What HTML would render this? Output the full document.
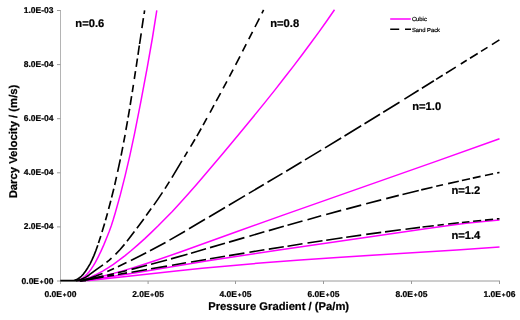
<!DOCTYPE html>
<html><head><meta charset="utf-8"><title>Chart</title>
<style>
html,body{margin:0;padding:0;background:#fff;}
text{stroke:#000;stroke-width:0.22px;}
svg{display:block;font-family:"Liberation Sans",sans-serif;fill:#000;text-rendering:geometricPrecision;will-change:transform;}
</style></head>
<body>
<svg width="520" height="320" viewBox="0 0 520 320">
<rect width="520" height="320" fill="#ffffff"/>
<g>
<path d="M60.5 10 V284" stroke="#b4b4b4" stroke-width="1" fill="none"/>
<path d="M57 281 H500" stroke="#9a9a9a" stroke-width="1" fill="none"/>
<path d="M57 10.50 H60.5" stroke="#9a9a9a" stroke-width="1" fill="none"/>
<path d="M57 64.60 H60.5" stroke="#9a9a9a" stroke-width="1" fill="none"/>
<path d="M57 118.70 H60.5" stroke="#9a9a9a" stroke-width="1" fill="none"/>
<path d="M57 172.80 H60.5" stroke="#9a9a9a" stroke-width="1" fill="none"/>
<path d="M57 226.90 H60.5" stroke="#9a9a9a" stroke-width="1" fill="none"/>
<path d="M148.10 281 V284" stroke="#9a9a9a" stroke-width="1" fill="none"/>
<path d="M235.50 281 V284" stroke="#9a9a9a" stroke-width="1" fill="none"/>
<path d="M323.50 281 V284" stroke="#9a9a9a" stroke-width="1" fill="none"/>
<path d="M411.50 281 V284" stroke="#9a9a9a" stroke-width="1" fill="none"/>
<path d="M499.50 281 V284" stroke="#9a9a9a" stroke-width="1" fill="none"/>
</g>
<g>
<path d="M77.6 280.6 L78.0 280.6 L79.2 280.0 L82.2 278.3 L84.6 276.5 L86.9 274.3 L89.0 271.9 L91.1 269.2 L93.1 266.2 L95.2 262.7 L98.0 257.3 L100.9 251.4 L103.8 244.9 L106.9 237.3 L109.2 231.5 L111.2 225.9 L113.2 219.8 L115.3 212.8 L120.3 194.9 L125.1 175.9 L129.9 155.4 L134.7 132.9 L140.7 102.4 L147.4 66.7 L152.5 37.5 L156.8 10.3" fill="none" stroke="#ff00ff" stroke-width="1.5" stroke-linejoin="round"/>
<path d="M79.2 280.6 L81.6 280.6 L84.7 279.5 L91.1 276.9 L97.4 273.9 L102.7 271.1 L108.0 267.8 L113.4 264.3 L119.1 260.2 L125.1 255.6 L131.3 250.5 L138.1 244.6 L144.8 238.6 L151.4 232.4 L158.2 225.8 L165.1 218.8 L172.3 211.4 L180.3 202.7 L188.6 193.5 L197.4 183.5 L207.2 172.0 L223.3 153.0 L238.7 134.4 L252.3 118.0 L264.8 102.6 L274.8 90.1 L284.4 77.8 L293.5 66.1 L302.3 54.5 L310.8 43.0 L319.0 31.9 L326.9 20.8 L334.5 9.8" fill="none" stroke="#ff00ff" stroke-width="1.5" stroke-linejoin="round"/>
<path d="M79.0 280.6 L80.2 280.6 L81.7 280.4 L93.6 278.1 L103.4 275.9 L113.5 273.4 L123.5 270.6 L134.2 267.4 L145.8 263.8 L157.9 259.8 L181.7 251.5 L237.2 231.5 L283.8 214.9 L436.7 161.1 L499.5 138.8" fill="none" stroke="#ff00ff" stroke-width="1.5" stroke-linejoin="round"/>
<path d="M80.1 280.6 L83.4 280.6 L95.7 279.0 L108.9 277.0 L136.0 272.8 L206.3 261.1 L240.9 255.7 L279.0 250.0 L368.8 237.1 L425.6 228.7 L447.2 225.7 L466.0 223.3 L483.4 221.4 L499.5 220.0" fill="none" stroke="#ff00ff" stroke-width="1.5" stroke-linejoin="round"/>
<path d="M80.0 280.6 L86.8 280.6 L89.0 280.4 L116.9 277.5 L176.1 271.0 L202.1 268.3 L233.4 265.4 L266.9 262.5 L300.3 260.0 L337.2 257.4 L456.9 249.9 L499.5 247.1" fill="none" stroke="#ff00ff" stroke-width="1.5" stroke-linejoin="round"/>
<path d="M144.6 10.3 L144.1 14.0 M143.4 18.2 L141.9 28.1 M141.2 33.3 L139.6 44.0 M139.3 45.5 L138.0 54.8 M137.4 58.5 L136.2 66.9 M135.5 71.2 L134.3 79.0 M133.4 84.8 L132.3 92.2 M131.6 96.2 L130.2 105.0 M129.6 108.8 L128.1 117.5 M127.5 121.2 L125.9 130.0 M125.1 134.8 L123.6 142.5 M122.8 146.9 L121.1 155.6 M120.3 159.4 L117.6 171.9 M116.5 176.9 L114.7 185.0 M113.8 188.8 L111.6 197.5 M110.8 200.8 L108.6 209.0 M107.5 213.3 L105.5 220.3 M104.6 223.4 L102.0 232.0 M100.8 235.9 L98.5 243.0 M97.8 245.3 L95.8 250.8 L93.9 255.6 L92.0 259.9 L90.1 263.8 L87.8 267.7 L85.5 271.2 L83.4 274.1 L81.3 276.3 L79.6 277.7 L77.7 279.0 L75.9 279.9 L74.0 280.6 L60.3 280.6 M60.3 280.6 L73.8 280.6 L76.0 279.8 M60.3 280.6 H86" fill="none" stroke="#000000" stroke-width="1.65" stroke-linejoin="round"/>
<path d="M76.0 280.6 L78.3 280.3 L80.7 279.6 L83.1 278.6 L85.5 277.4 L88.8 275.2 L95.9 269.9 L103.0 264.9 M106.5 262.3 L109.0 260.3 L111.5 258.1 M115.5 254.4 L119.9 249.7 L124.5 244.4 M127.0 241.3 L134.4 231.6 M136.9 228.2 L143.8 218.9 M146.2 215.5 L151.2 208.6 M153.8 205.1 L158.3 198.6 L162.5 192.4 M165.0 188.6 L169.4 181.6 M171.9 177.6 L181.9 160.9 M184.4 156.8 L187.5 151.6 M190.6 146.6 L195.0 139.3 M196.9 136.1 L201.2 128.5 M203.1 125.1 L206.9 118.2 M210.0 112.6 L214.0 105.2 M216.2 101.1 L220.6 93.1 M223.1 88.4 L226.9 81.3 M229.4 76.6 L233.1 69.6 M235.6 64.8 L240.0 56.3 M242.5 51.4 L246.2 44.1 M248.8 39.2 L252.5 31.9 M255.0 27.0 L259.4 18.3 M261.9 13.3 L263.6 9.9" fill="none" stroke="#000000" stroke-width="1.65" stroke-linejoin="round"/>
<path d="M80.1 280.6 L81.0 280.6 L82.3 280.3 L89.7 278.2 L95.8 276.1 L102.5 273.5 M107.3 271.5 L114.0 268.5 M117.9 266.7 L126.5 262.6 M130.9 260.5 L146.2 252.8 M150.0 250.8 L165.5 242.4 M169.5 240.1 L185.0 231.2 M189.0 228.8 L205.0 219.3 M209.0 217.0 L225.0 207.5 M228.8 205.3 L245.0 195.6 M248.8 193.4 L263.8 184.5 M267.5 182.3 L282.5 173.4 M286.2 171.2 L301.5 162.0 M305.0 159.9 L321.2 150.1 M325.0 147.9 L341.2 138.0 M344.5 136.0 L361.2 125.7 M364.5 123.8 L380.0 114.2 M383.2 112.2 L399.5 102.2 M404.4 99.1 L418.6 90.3 M421.9 88.2 L433.9 80.8 M436.1 79.4 L442.7 75.3 M446.0 73.2 L455.8 67.1 M460.8 64.0 L466.7 60.3 M470.0 58.3 L477.7 53.5 M481.0 51.4 L487.5 47.4 M491.9 44.6 L499.4 39.9" fill="none" stroke="#000000" stroke-width="1.65" stroke-linejoin="round"/>
<path d="M80.0 280.6 L80.9 280.6 L89.1 279.1 L103.5 276.1 M107.3 275.3 L114.0 273.7 M117.9 272.8 L127.0 270.5 M131.5 269.4 L147.0 265.3 M151.0 264.3 L167.0 260.0 M171.0 258.9 L187.5 254.2 M191.0 253.2 L206.0 248.8 M210.0 247.6 L225.0 243.2 M229.0 242.1 L244.4 237.6 M249.4 236.2 L264.4 231.8 M268.8 230.6 L283.8 226.3 M287.5 225.3 L302.5 221.0 M307.5 219.7 L321.2 215.8 M326.2 214.5 L341.2 210.4 M346.2 209.1 L361.2 205.1 M366.2 203.8 L381.2 199.9 M386.2 198.6 L398.8 195.4 M402.5 194.5 L418.8 190.5 M421.2 189.9 L432.5 187.2 M436.2 186.3 L443.0 184.8 M448.1 183.6 L458.8 181.2 M461.9 180.5 L470.0 178.7 M472.8 178.1 L480.6 176.4 M485.0 175.5 L493.1 173.8 M497.2 172.9 L499.5 172.5" fill="none" stroke="#000000" stroke-width="1.65" stroke-linejoin="round"/>
<path d="M80.1 280.6 L82.3 280.6 L103.5 277.0 M107.3 276.3 L114.0 275.2 M117.9 274.5 L127.0 272.9 M131.5 272.2 L147.0 269.5 M151.0 268.8 L167.0 266.1 M172.0 265.2 L186.0 262.8 M191.0 262.0 L206.0 259.5 M210.0 258.8 L225.0 256.3 M229.0 255.6 L244.4 253.1 M249.4 252.3 L264.4 249.8 M268.8 249.1 L283.8 246.7 M287.5 246.2 L302.5 243.8 M307.5 243.0 L322.5 240.8 M326.2 240.2 L342.5 237.8 M346.2 237.3 L361.2 235.1 M366.2 234.4 L381.2 232.4 M385.0 231.9 L400.8 229.8 M405.5 229.2 L420.0 227.4 M422.5 227.0 L433.8 225.7 M437.5 225.3 L443.8 224.5 M448.1 224.0 L458.8 222.8 M461.9 222.5 L469.4 221.7 M473.1 221.3 L481.2 220.5 M485.0 220.1 L493.1 219.3 M496.9 218.9 L499.5 218.7" fill="none" stroke="#000000" stroke-width="1.65" stroke-linejoin="round"/>
</g>
<g>
<text x="53.5" y="13.05" text-anchor="end" font-size="8.5" font-weight="bold">1.0E-03</text>
<text x="53.5" y="67.15" text-anchor="end" font-size="8.5" font-weight="bold">8.0E-04</text>
<text x="53.5" y="121.25" text-anchor="end" font-size="8.5" font-weight="bold">6.0E-04</text>
<text x="53.5" y="175.35" text-anchor="end" font-size="8.5" font-weight="bold">4.0E-04</text>
<text x="53.5" y="229.45" text-anchor="end" font-size="8.5" font-weight="bold">2.0E-04</text>
<text x="53.5" y="283.55" text-anchor="end" font-size="8.5" font-weight="bold">0.0E<tspan font-size="6.4" dx="0.62" dy="0.35">+</tspan><tspan dx="0.62" dy="-0.35">00</tspan></text>
<text x="60.50" y="296.8" text-anchor="middle" font-size="8.5" font-weight="bold">0.0E<tspan font-size="6.4" dx="0.62" dy="0.35">+</tspan><tspan dx="0.62" dy="-0.35">00</tspan></text>
<text x="148.10" y="296.8" text-anchor="middle" font-size="8.5" font-weight="bold">2.0E<tspan font-size="6.4" dx="0.62" dy="0.35">+</tspan><tspan dx="0.62" dy="-0.35">05</tspan></text>
<text x="235.50" y="296.8" text-anchor="middle" font-size="8.5" font-weight="bold">4.0E<tspan font-size="6.4" dx="0.62" dy="0.35">+</tspan><tspan dx="0.62" dy="-0.35">05</tspan></text>
<text x="323.50" y="296.8" text-anchor="middle" font-size="8.5" font-weight="bold">6.0E<tspan font-size="6.4" dx="0.62" dy="0.35">+</tspan><tspan dx="0.62" dy="-0.35">05</tspan></text>
<text x="411.50" y="296.8" text-anchor="middle" font-size="8.5" font-weight="bold">8.0E<tspan font-size="6.4" dx="0.62" dy="0.35">+</tspan><tspan dx="0.62" dy="-0.35">05</tspan></text>
<text x="499.50" y="296.8" text-anchor="middle" font-size="8.5" font-weight="bold">1.0E<tspan font-size="6.4" dx="0.62" dy="0.35">+</tspan><tspan dx="0.62" dy="-0.35">06</tspan></text>
<text x="208.2" y="310.05" font-size="11.23" font-weight="bold">Pressure Gradient / (Pa/m)</text>
<text transform="translate(16.5 141.5) rotate(-90)" text-anchor="middle" font-size="11.3" font-weight="bold">Darcy Velocity / (m/s)</text>
<text x="75.3" y="26.5" font-size="11.2" font-weight="bold">n=0.6</text>
<text x="270.2" y="26.9" font-size="11.2" font-weight="bold">n=0.8</text>
<text x="412.2" y="110" font-size="11.2" font-weight="bold">n=1.0</text>
<text x="451.4" y="193.8" font-size="11.2" font-weight="bold">n=1.2</text>
<text x="451.4" y="238.8" font-size="11.2" font-weight="bold">n=1.4</text>
<path d="M390.2 19 H410.8" stroke="#ff00ff" stroke-width="1.5"/>
<path d="M390.2 29.2 H399.2 M405 29.2 H411" stroke="#000000" stroke-width="1.6"/>
<text x="411.9" y="21.45" font-size="5.85">Cubic</text>
<text x="411.9" y="31.5" font-size="5.8">Sand Pack</text>
</g>
</svg>
</body></html>
